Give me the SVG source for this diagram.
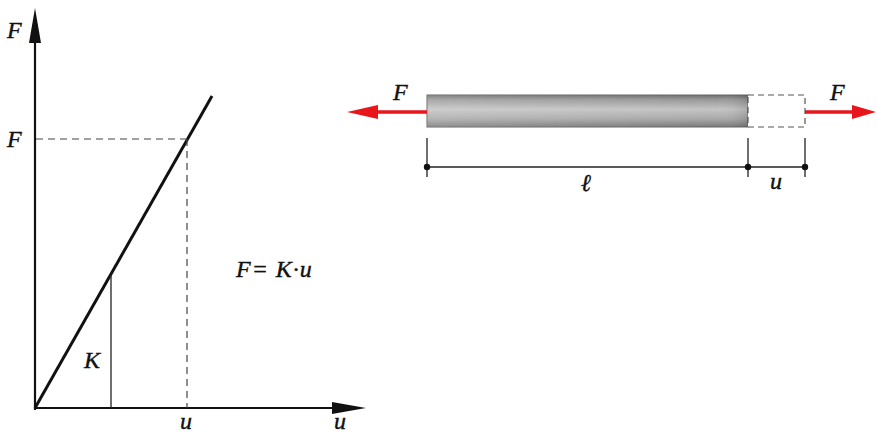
<svg xmlns="http://www.w3.org/2000/svg" width="878" height="434" viewBox="0 0 878 434">
<style>
.lbl{font-family:"Liberation Serif","Times New Roman",serif;font-style:italic;font-size:24px;fill:#111;stroke:#111;stroke-width:0.4}
.ax{stroke:#111;stroke-width:2.2;fill:none}
.thin{stroke:#222;stroke-width:1.3;fill:none}
.dash{stroke:#444;stroke-width:1.2;stroke-dasharray:7,5;fill:none}
.red{stroke:#e8151b;stroke-width:3.5;fill:none}
</style>
<defs>
<linearGradient id="bar" x1="0" y1="0" x2="0" y2="1">
<stop offset="0" stop-color="#6e6e6e"/>
<stop offset="0.15" stop-color="#9a9a9a"/>
<stop offset="0.45" stop-color="#c4c4c4"/>
<stop offset="0.75" stop-color="#a8a8a8"/>
<stop offset="1" stop-color="#7a7a7a"/>
</linearGradient>
<linearGradient id="barh" x1="0" y1="0" x2="1" y2="0">
<stop offset="0" stop-color="#fff" stop-opacity="0.15"/>
<stop offset="0.9" stop-color="#fff" stop-opacity="0"/>
<stop offset="1" stop-color="#000" stop-opacity="0.12"/>
</linearGradient>
</defs>
<rect width="878" height="434" fill="#fff"/>
<g id="graph">
<line class="ax" x1="35" y1="410" x2="35" y2="40"/>
<polygon points="35,8 29,43 41,43" fill="#111"/>
<line class="ax" x1="35" y1="408" x2="335" y2="408"/>
<polygon points="366,408 332,402 332,414" fill="#111"/>
<line x1="35" y1="408" x2="212" y2="96" stroke="#111" stroke-width="3"/>
<line class="dash" x1="36" y1="139" x2="187" y2="139"/>
<line class="dash" x1="187" y1="139" x2="187" y2="408"/>
<line class="thin" x1="111" y1="275" x2="111" y2="408" stroke-width="1.6"/>
<text class="lbl" x="7" y="38">F</text>
<text class="lbl" x="7" y="147">F</text>
<text class="lbl" x="84" y="368">K</text>
<text class="lbl" x="180" y="429">u</text>
<text class="lbl" x="334" y="429">u</text>
<text class="lbl" x="236" y="277" letter-spacing="1">F= K·u</text>
</g>
<g id="bar-node">
<rect x="427" y="95" width="321" height="32" fill="url(#bar)" stroke="#666" stroke-width="1"/>
<rect x="427" y="95" width="321" height="32" fill="url(#barh)"/>
<rect x="748" y="95" width="57" height="32" fill="#fff" stroke="#555" stroke-width="1.2" stroke-dasharray="6,4"/>
</g>
<g id="connectors">
<line class="red" x1="427" y1="112" x2="372" y2="112"/>
<polygon points="347,112 378,105 378,119" fill="#e8151b"/>
<line class="red" x1="805" y1="112" x2="858" y2="112"/>
<polygon points="876,112 852,105 852,119" fill="#e8151b"/>
<line class="thin" x1="427" y1="167" x2="805" y2="167"/>
<line class="thin" x1="427" y1="138" x2="427" y2="177"/>
<line class="thin" x1="748" y1="138" x2="748" y2="177"/>
<line class="thin" x1="805" y1="138" x2="805" y2="177"/>
<circle cx="427" cy="167" r="3.2" fill="#111"/>
<circle cx="748" cy="167" r="3.2" fill="#111"/>
<circle cx="805" cy="167" r="3.2" fill="#111"/>
</g>
<g id="labels">
<text class="lbl" x="393" y="100">F</text>
<text class="lbl" x="830" y="100">F</text>
<text class="lbl" x="581" y="191">ℓ</text>
<text class="lbl" x="770" y="189">u</text>
</g>
</svg>
